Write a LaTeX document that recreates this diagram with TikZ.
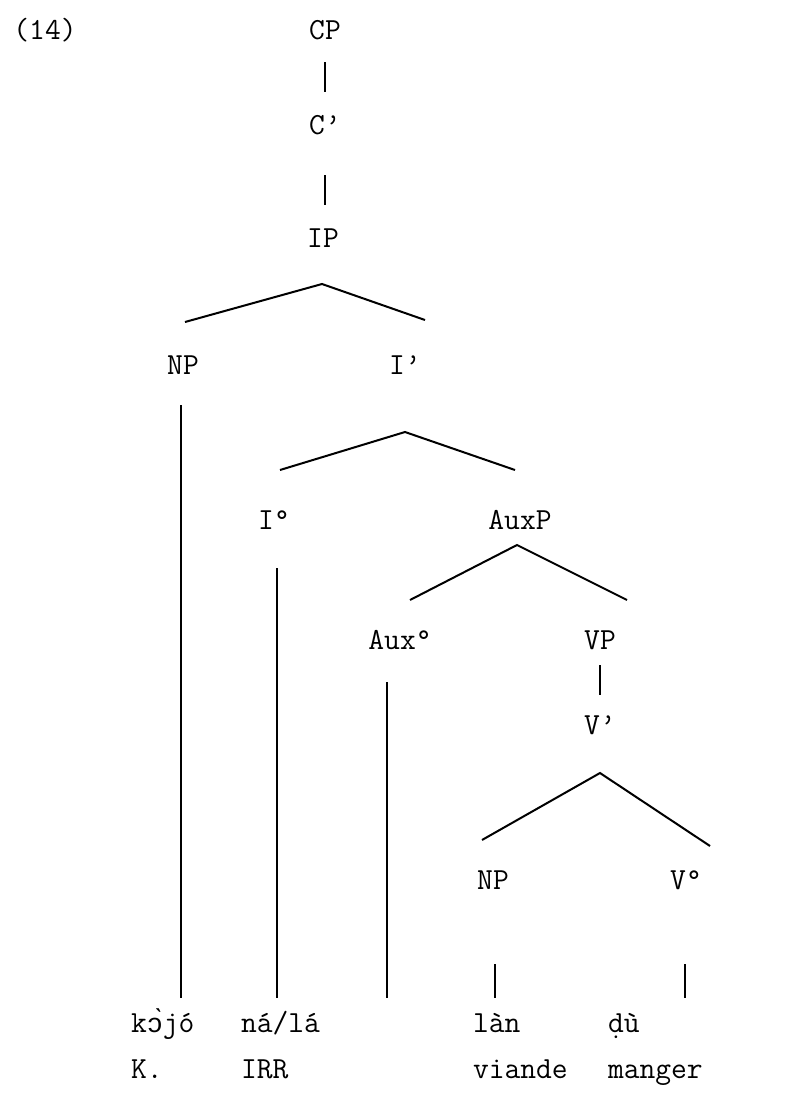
\documentclass[tikz,border=0pt]{standalone}
\usepackage{fontspec}
\newfontfamily\ipafont{Liberation Mono}
\tikzset{every picture/.style={line width=1.5pt}}
\tikzset{
	cat/.style={font=\ttfamily\fontsize{23}{26}\selectfont},
	word/.style={font=\ttfamily\fontsize{23}{26}\selectfont, anchor=base west, inner sep=0pt}}
\begin{document}
\begin{tikzpicture}[x=0.75pt,y=0.75pt,yscale=-1,xscale=1]
	\useasboundingbox (0,0) rectangle (796,1100);

	% Text Node
	\draw (45,30) node [cat] (num) {(14)};
	% Text Node
	\draw (325,30) node [cat] (CP) {CP};
	% Text Node
	\draw (325,125) node [cat] (Cbar) {C’};
	% Text Node
	\draw (323,238) node [cat] (IP) {IP};
	% Text Node
	\draw (183,365) node [cat] (NPsubj) {NP};
	% Text Node
	\draw (405,365) node [cat] (Ibar) {I’};
	% Text Node
	\draw (274,520) node [cat] (Izero) {I°};
	% Text Node
	\draw (520,520) node [cat] (AuxP) {AuxP};
	% Text Node
	\draw (400,640) node [cat] (Auxzero) {Aux°};
	% Text Node
	\draw (600,640) node [cat] (VP) {VP};
	% Text Node
	\draw (600,725) node [cat] (Vbar) {V’};
	% Text Node
	\draw (493,880) node [cat] (NPobj) {NP};
	% Text Node
	\draw (686,880) node [cat] (Vzero) {V°};

	%Straight Lines
	\coordinate (CPl) at (325,62);
	\coordinate (Cbart) at (325,92);
	\draw (CPl) -- (Cbart);
	%Straight Lines
	\coordinate (Cbarl) at (325,175);
	\coordinate (IPt) at (325,205);
	\draw (Cbarl) -- (IPt);
	%Straight Lines
	\coordinate (IPa) at (322,284);
	\coordinate (IPl) at (185,322);
	\coordinate (IPr) at (425,320);
	\draw (IPl) -- (IPa) -- (IPr);
	%Straight Lines
	\coordinate (Ibara) at (405,432);
	\coordinate (Ibarl) at (280,470);
	\coordinate (Ibarr) at (515,470);
	\draw (Ibarl) -- (Ibara) -- (Ibarr);
	%Straight Lines
	\coordinate (AuxPa) at (517,545);
	\coordinate (AuxPl) at (410,600);
	\coordinate (AuxPr) at (627,600);
	\draw (AuxPl) -- (AuxPa) -- (AuxPr);
	%Straight Lines
	\coordinate (VPl) at (600,665);
	\coordinate (Vbart) at (600,695);
	\draw (VPl) -- (Vbart);
	%Straight Lines
	\coordinate (Vbara) at (600,773);
	\coordinate (Vbarl) at (482,840);
	\coordinate (Vbarr) at (710,846);
	\draw (Vbarl) -- (Vbara) -- (Vbarr);

	%Straight Lines
	\coordinate (NPsubjt) at (181,405);
	\coordinate (NPsubjb) at (181,998);
	\draw (NPsubjt) -- (NPsubjb);
	%Straight Lines
	\coordinate (Izerot) at (277,568);
	\coordinate (Izerob) at (277,998);
	\draw (Izerot) -- (Izerob);
	%Straight Lines
	\coordinate (Auxzerot) at (387,682);
	\coordinate (Auxzerob) at (387,998);
	\draw (Auxzerot) -- (Auxzerob);
	%Straight Lines
	\coordinate (NPobjt) at (495,964);
	\coordinate (NPobjb) at (495,998);
	\draw (NPobjt) -- (NPobjb);
	%Straight Lines
	\coordinate (Vzerot) at (685,964);
	\coordinate (Vzerob) at (685,998);
	\draw (Vzerot) -- (Vzerob);

	% Text Node
	\draw (130,1032) node [word] (kojo) {k\makebox[0.525em][c]{\ipafont\fontsize{20}{24}\selectfont ɔ̀}jó};
	% Text Node
	\draw (240,1032) node [word] (nala) {ná/lá};
	% Text Node
	\draw (472,1032) node [word] (lan) {làn};
	% Text Node
	\draw (607,1032) node [word] (du) {ḍù};
	% Text Node
	\draw (130,1078) node [word] (glK) {K.};
	% Text Node
	\draw (240,1078) node [word] (glIRR) {IRR};
	% Text Node
	\draw (472,1078) node [word] (glviande) {viande};
	% Text Node
	\draw (607,1078) node [word] (glmanger) {manger};

\end{tikzpicture}
\end{document}
